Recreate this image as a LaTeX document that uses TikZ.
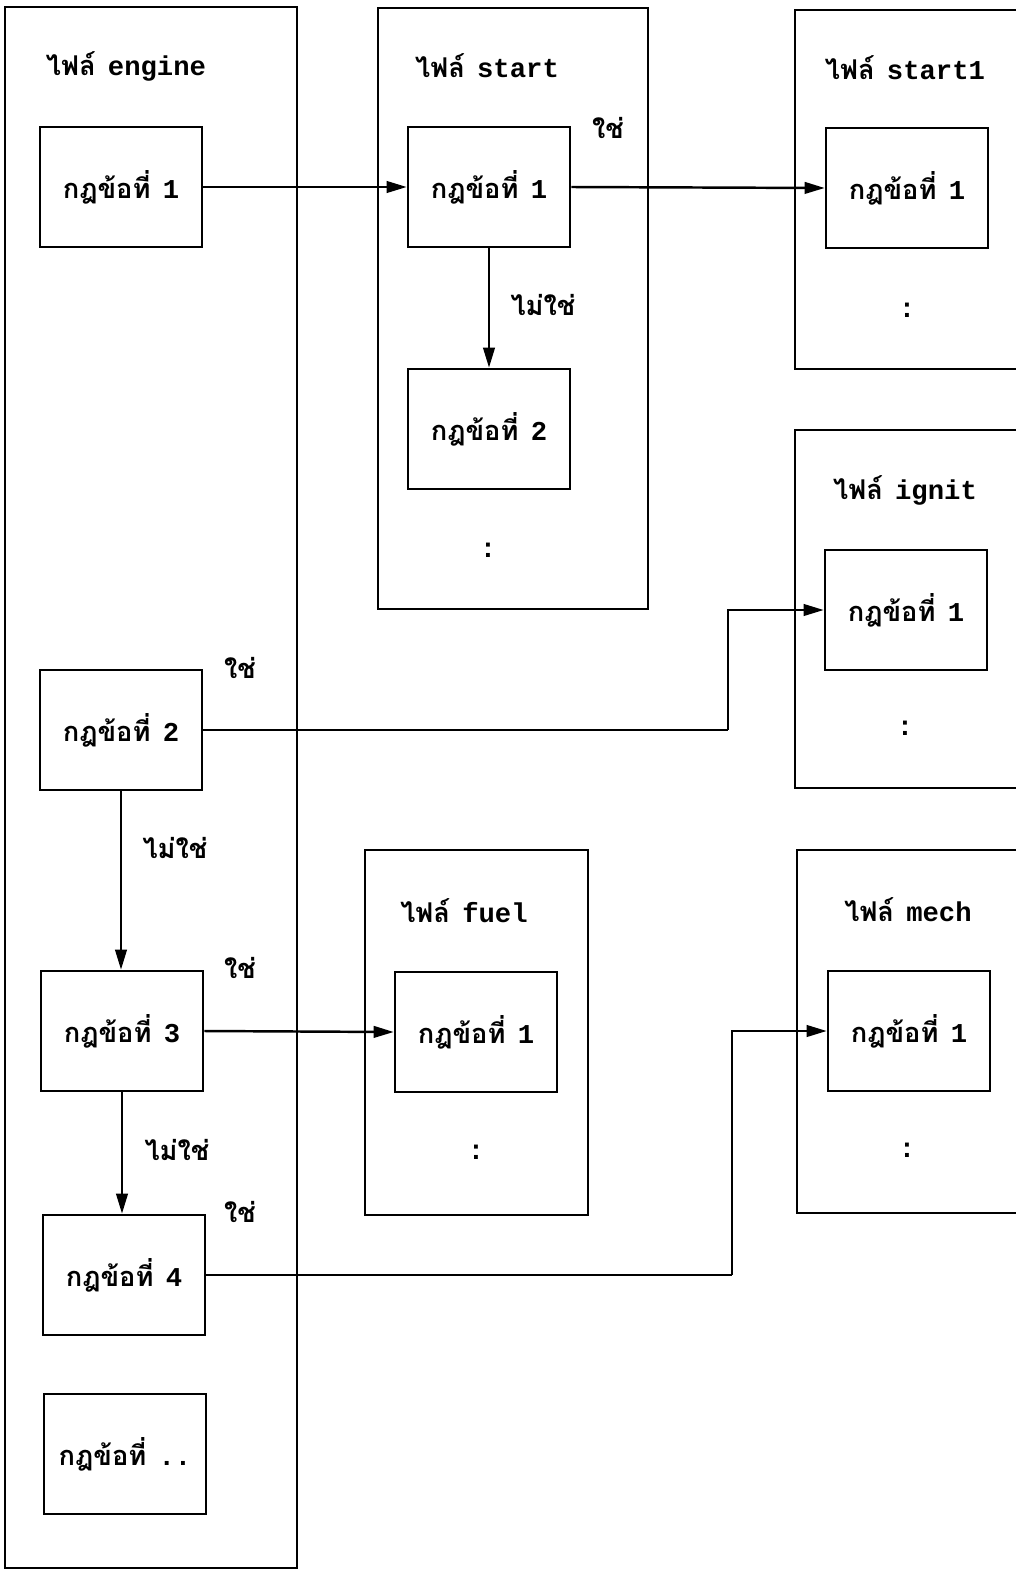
\documentclass[tikz,border=0pt]{standalone}
\usepackage{fontspec}
\setmonofont{Liberation Mono}
\newfontfamily\thaifont[Script=Thai]{Loma}
\usetikzlibrary{arrows.meta}

% Thai words, bold
\newcommand{\tht}[1]{{\thaifont\bfseries #1}}
% Latin words, bold typewriter
\newcommand{\ltn}[1]{{\ttfamily\bfseries #1}}
% gap between Thai and Latin words
\newcommand{\gp}{\hspace{0.45em}}

\tikzset{
  filebox/.style={line width=1.5pt},
  rulebox/.style={draw, line width=1.5pt, minimum width=3.24cm, minimum height=2.4cm, inner sep=0pt},
  txt/.style={inner sep=1pt},
  flow/.style={line width=1.4pt, -{Triangle[length=4mm,width=2.3mm]}},
  link/.style={line width=1.4pt}
}

\begin{document}
\begin{tikzpicture}[x=0.02cm, y=-0.02cm, font=\fontsize{15.5}{18}\selectfont]

\useasboundingbox (0,0) rectangle (1016,1572);
\clip (0,0) rectangle (1016,1572);

% File boxes
\draw[filebox] (5,7) rectangle (297,1568);
\draw[filebox] (378,8) rectangle (648,609);
\draw[filebox] (795,10) rectangle (1030,369);
\draw[filebox] (795,430) rectangle (1030,788);
\draw[filebox] (365,850) rectangle (588,1215);
\draw[filebox] (797,850) rectangle (1030,1213);

% File titles
\node[txt] (tengine) at (126,66) {\tht{ไฟล์}\gp\ltn{engine}};
\node[txt] (tstart)  at (487,66) {\tht{ไฟล์}\gp\ltn{start}};
\node[txt] (tstarta) at (905,68) {\tht{ไฟล์}\gp\ltn{start1}};
\node[txt] (tignit)  at (905,490) {\tht{ไฟล์}\gp\ltn{ignit}};
\node[txt] (tfuel)   at (464,911) {\tht{ไฟล์}\gp\ltn{fuel}};
\node[txt] (tmech)   at (908,910) {\tht{ไฟล์}\gp\ltn{mech}};

% Rules in engine
\node[rulebox] (e1) at (121,187)  {\tht{กฎข้อที่}\gp\ltn{1}};
\node[rulebox] (e2) at (121,730)  {\tht{กฎข้อที่}\gp\ltn{2}};
\node[rulebox] (e3) at (122,1031) {\tht{กฎข้อที่}\gp\ltn{3}};
\node[rulebox] (e4) at (124,1275) {\tht{กฎข้อที่}\gp\ltn{4}};
\node[rulebox] (e5) at (125,1454) {\tht{กฎข้อที่}\gp\ltn{..}};

% Rules in the other files
\node[rulebox] (s1) at (489,187)  {\tht{กฎข้อที่}\gp\ltn{1}};
\node[rulebox] (s2) at (489,429)  {\tht{กฎข้อที่}\gp\ltn{2}};
\node[rulebox] (t1) at (907,188)  {\tht{กฎข้อที่}\gp\ltn{1}};
\node[rulebox] (i1) at (906,610)  {\tht{กฎข้อที่}\gp\ltn{1}};
\node[rulebox] (f1) at (476,1032) {\tht{กฎข้อที่}\gp\ltn{1}};
\node[rulebox] (m1) at (909,1031) {\tht{กฎข้อที่}\gp\ltn{1}};

% More rules
\node[txt] (dstart)  at (488,550)  {\ltn{:}};
\node[txt] (dstarta) at (907,310)  {\ltn{:}};
\node[txt] (dignit)  at (905,728)  {\ltn{:}};
\node[txt] (dfuel)   at (476,1152) {\ltn{:}};
\node[txt] (dmech)   at (907,1150) {\ltn{:}};

% Yes / no labels
\node[txt] (ys1) at (608,128)  {\tht{ใช่}};
\node[txt] (ns1) at (543,305)  {\tht{ไม่ใช่}};
\node[txt] (ye2) at (240,668)  {\tht{ใช่}};
\node[txt] (ne2) at (175,848)  {\tht{ไม่ใช่}};
\node[txt] (ye3) at (240,968)  {\tht{ใช่}};
\node[txt] (ne3) at (177,1150) {\tht{ไม่ใช่}};
\node[txt] (ye4) at (240,1212) {\tht{ใช่}};

% Connectors
\coordinate (k1) at (728,730);
\coordinate (k2) at (732,1275);

\draw[flow] (e1.east) -- (s1.west);
\draw[flow] (s1.east) -- (t1.west);
\draw[flow] (s1.south) -- (s2.north);
\draw[link] (e2.east) -- (k1);
\draw[flow] (k1) |- (i1.west);
\draw[flow] (e2.south) -- (e2.south |- e3.north);
\draw[flow] (e3.east) -- (f1.west);
\draw[flow] (e3.south) -- (e3.south |- e4.north);
\draw[link] (e4.east) -- (k2);
\draw[flow] (k2) |- (m1.west);

\end{tikzpicture}
\end{document}
